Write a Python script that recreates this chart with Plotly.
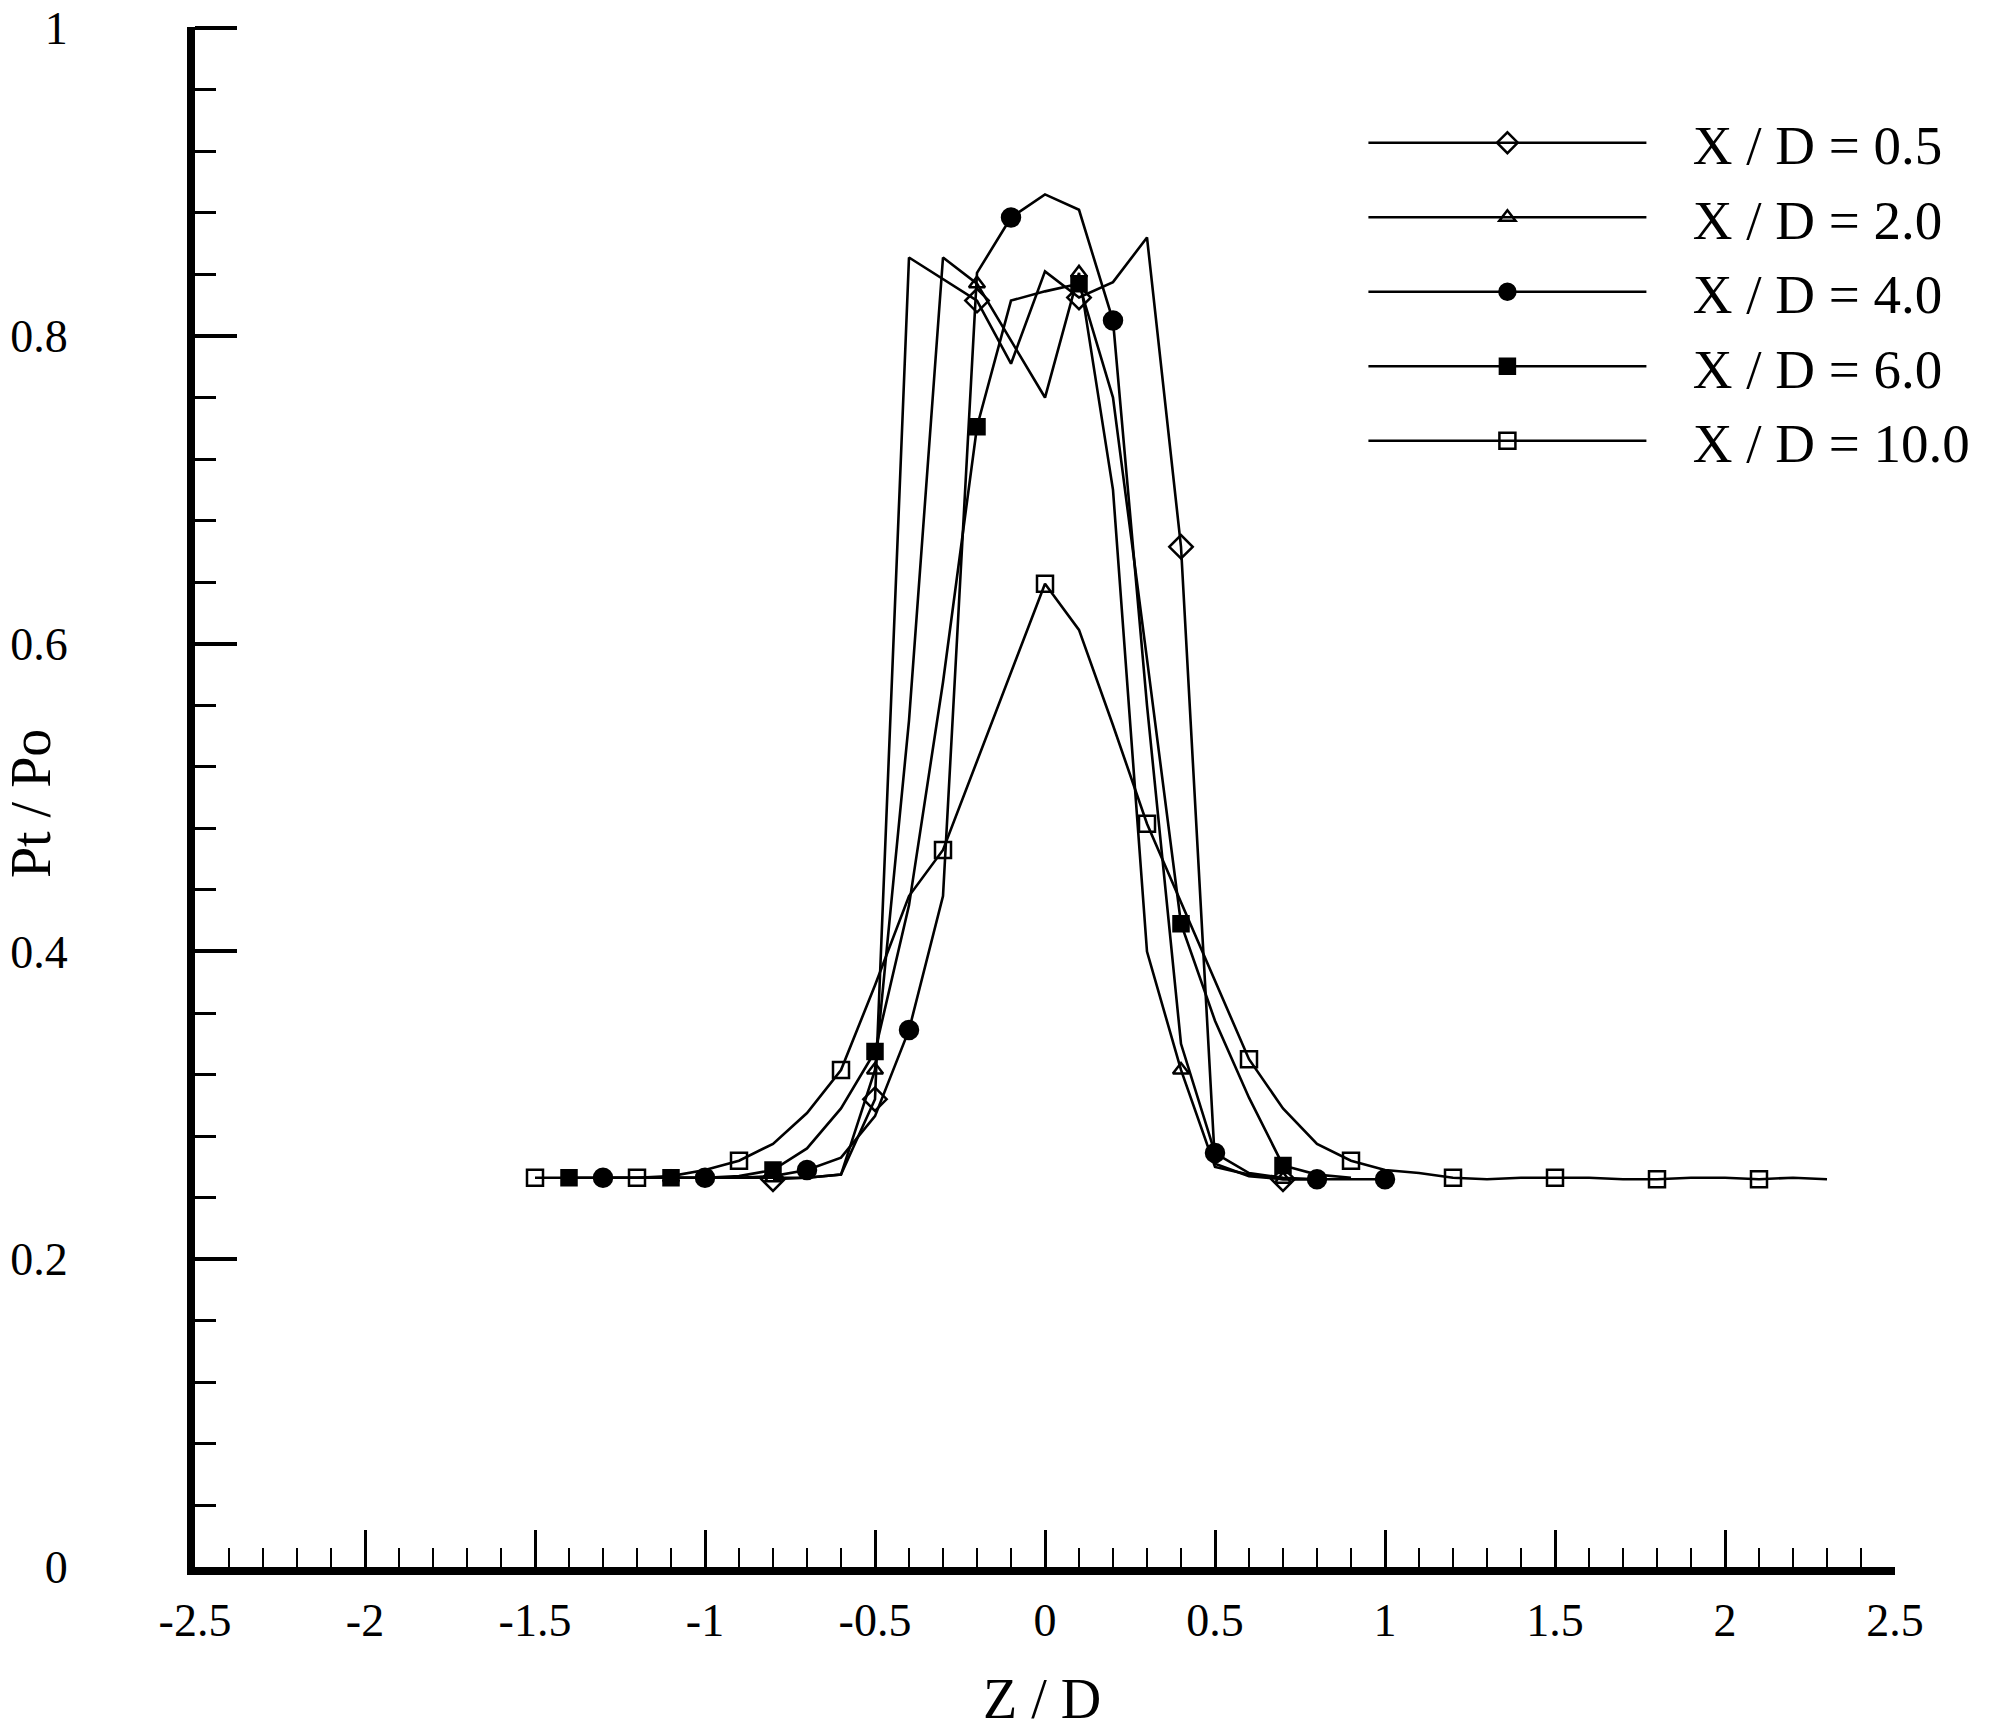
import plotly.graph_objects as go

# ---------------- data ----------------
x_05 = [-0.8, -0.7, -0.6, -0.5, -0.4, -0.3, -0.2, -0.1, 0.0, 0.1, 0.2, 0.3, 0.4, 0.5, 0.6, 0.7, 0.8]
y_05 = [0.252, 0.253, 0.255, 0.304, 0.851, 0.837, 0.823, 0.782, 0.842, 0.825, 0.835, 0.864, 0.663,
        0.262, 0.254, 0.252, 0.252]

x_20 = [-1.1, -1.0, -0.9, -0.8, -0.7, -0.6, -0.5, -0.4, -0.3, -0.2, -0.1, 0.0, 0.1, 0.2, 0.3, 0.4,
        0.5, 0.6, 0.7, 0.8]
y_20 = [0.253, 0.253, 0.253, 0.253, 0.253, 0.255, 0.323, 0.550, 0.851, 0.834, 0.797, 0.760, 0.841,
        0.700, 0.400, 0.323, 0.260, 0.255, 0.252, 0.252]

x_40 = [-1.3, -1.2, -1.1, -1.0, -0.9, -0.8, -0.7, -0.6, -0.5, -0.4, -0.3, -0.2, -0.1, 0.0, 0.1, 0.2,
        0.3, 0.4, 0.5, 0.6, 0.7, 0.8, 0.9, 1.0]
y_40 = [0.253, 0.253, 0.253, 0.253, 0.253, 0.254, 0.258, 0.266, 0.293, 0.349, 0.436, 0.841, 0.877,
        0.892, 0.882, 0.810, 0.560, 0.340, 0.269, 0.256, 0.253, 0.252, 0.252, 0.252]

x_60 = [-1.4, -1.3, -1.2, -1.1, -1.0, -0.9, -0.8, -0.7, -0.6, -0.5, -0.4, -0.3, -0.2, -0.1, 0.0, 0.1,
        0.2, 0.3, 0.4, 0.5, 0.6, 0.7, 0.8, 0.9]
y_60 = [0.253, 0.253, 0.253, 0.253, 0.253, 0.254, 0.258, 0.272, 0.298, 0.335, 0.430, 0.575, 0.741,
        0.823, 0.829, 0.834, 0.760, 0.590, 0.418, 0.355, 0.305, 0.261, 0.255, 0.253]

x_100 = [-1.5, -1.4, -1.3, -1.2, -1.1, -1.0, -0.9, -0.8, -0.7, -0.6, -0.5, -0.4, -0.3, -0.2, -0.1,
         0.0, 0.1, 0.2, 0.3, 0.4, 0.5, 0.6, 0.7, 0.8, 0.9, 1.0, 1.1, 1.2, 1.3, 1.4, 1.5, 1.6, 1.7,
         1.8, 1.9, 2.0, 2.1, 2.2, 2.3]
y_100 = [0.253, 0.253, 0.253, 0.253, 0.254, 0.258, 0.264, 0.275, 0.295, 0.323, 0.378, 0.436, 0.466,
         0.524, 0.582, 0.639, 0.609, 0.547, 0.483, 0.432, 0.381, 0.330, 0.298, 0.275, 0.264, 0.258,
         0.256, 0.253, 0.252, 0.253, 0.253, 0.253, 0.252, 0.252, 0.253, 0.253, 0.252, 0.253, 0.252]

series_names = ["X / D = 0.5", "X / D = 2.0", "X / D = 4.0", "X / D = 6.0", "X / D = 10.0"]

x_tick_values = [-2.5, -2, -1.5, -1, -0.5, 0, 0.5, 1, 1.5, 2, 2.5]
x_tick_labels = ["-2.5", "-2", "-1.5", "-1", "-0.5", "0", "0.5", "1", "1.5", "2", "2.5"]
y_tick_values = [0, 0.2, 0.4, 0.6, 0.8, 1]
y_tick_labels = ["0", "0.2", "0.4", "0.6", "0.8", "1"]

x_title = "Z / D"
y_title = "Pt / Po"

# ---------------- styles ----------------
styles = [
    dict(symbol="diamond-open", size=18, mark_last=False),
    dict(symbol="triangle-up-open", size=14, mark_last=False),
    dict(symbol="circle", size=18, mark_last=True),
    dict(symbol="square", size=15, mark_last=False),
    dict(symbol="square-open", size=16, mark_last=False),
]

FONT = "Liberation Serif"
LEGEND_PAD = "\u00a0\u00a0\u00a0"   # visual gap between legend line and text

fig = go.Figure()
data = [(x_05, y_05), (x_20, y_20), (x_40, y_40), (x_60, y_60), (x_100, y_100)]
for name, (xs, ys), st in zip(series_names, data, styles):
    n = len(xs)
    sel = [i for i in range(n) if i % 3 == 0 or (st["mark_last"] and i == n - 1)]
    fig.add_trace(go.Scatter(
        x=xs, y=ys, name=LEGEND_PAD + name, mode="lines+markers",
        line=dict(color="black", width=2.6),
        marker=dict(symbol=st["symbol"], size=st["size"], color="black",
                    line=dict(color="black", width=2.5)),
        selectedpoints=sel,
        selected=dict(marker=dict(opacity=1)),
        unselected=dict(marker=dict(opacity=0)),
    ))

axis_common = dict(
    showline=True, linecolor="black", showgrid=False, zeroline=False, automargin=False,
    ticks="inside", tickcolor="black", ticklabeloverflow="allow",
    tickfont=dict(family=FONT, size=46, color="black"),
)

fig.update_layout(
    width=2010, height=1732,
    margin=dict(l=195, r=115, t=27, b=165, autoexpand=False),
    paper_bgcolor="white", plot_bgcolor="white",
    font=dict(family=FONT, color="black"),
    showlegend=True,
    legend=dict(
        x=0.6873, y=0.9523, xanchor="left", yanchor="top",
        font=dict(family=FONT, size=55, color="black"),
        itemwidth=278, bgcolor="rgba(0,0,0,0)", borderwidth=0,
    ),
    xaxis=dict(
        range=[-2.5, 2.5], tickmode="array", tickvals=x_tick_values, ticktext=x_tick_labels,
        ticklen=37, tickwidth=2.5, linewidth=8, ticklabelstandoff=6,
        minor=dict(tickmode="linear", tick0=-2.5, dtick=0.1, ticks="inside",
                   ticklen=19, tickwidth=2, tickcolor="black", showgrid=False),
        **axis_common,
    ),
    yaxis=dict(
        range=[0, 1.0008], tickmode="array", tickvals=y_tick_values, ticktext=y_tick_labels,
        ticklen=42, tickwidth=4, linewidth=8, ticklabelstandoff=110,
        minor=dict(tickmode="linear", tick0=0, dtick=0.04, ticks="inside",
                   ticklen=21, tickwidth=3, tickcolor="black", showgrid=False),
        **axis_common,
    ),
    annotations=[
        dict(text=x_title, xref="paper", yref="paper", x=0.498, y=-0.086,
             xanchor="center", yanchor="middle", showarrow=False,
             font=dict(family=FONT, size=56, color="black")),
        dict(text=y_title, xref="paper", yref="paper", x=-0.0965, y=0.496, textangle=-90,
             xanchor="center", yanchor="middle", showarrow=False,
             font=dict(family=FONT, size=56, color="black")),
    ],
)

fig.write_html("out.html")
